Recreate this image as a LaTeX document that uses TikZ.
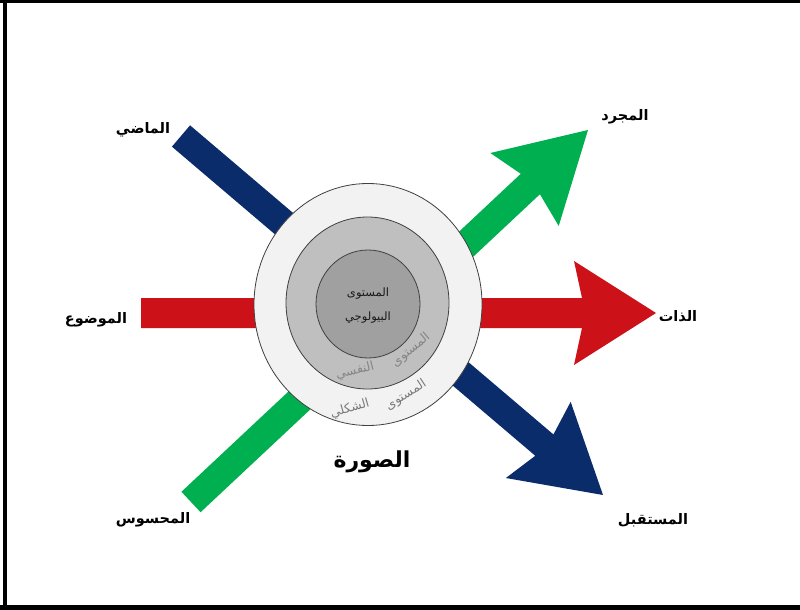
\documentclass[tikz,border=0pt]{standalone}
\usepackage{fontspec}
\usetikzlibrary{calc,shapes.geometric}
\newfontfamily\arabicfont[Script=Arabic]{DejaVu Sans}
\TeXXeTstate=1
\definecolor{navy}{HTML}{0B2C6B}
\definecolor{arred}{HTML}{CC1218}
\definecolor{argreen}{HTML}{00B050}
\definecolor{ringA}{HTML}{F2F2F2}
\definecolor{ringB}{HTML}{BFBFBF}
\definecolor{ringC}{HTML}{A0A0A0}
\newcommand{\fatarrow}[6]{% tail, tip, colour, half bar width, head length, half head width
  \path ($(#2)!#5!(#1)$) coordinate (hb);
  \path ($(#2)!#5-8pt!(#1)$) coordinate (hbn);
  \fill[#3] ($(#1)!#4!90:(#2)$) -- ($(hbn)!#4!90:(#2)$) -- ($(hb)!#6!90:(#2)$) -- (#2)
    -- ($(hb)!#6!-90:(#2)$) -- ($(hbn)!#4!-90:(#2)$) -- ($(#1)!#4!-90:(#2)$) -- cycle;
}
\tikzset{
  lbl/.style={font=\arabicfont\bfseries\fontsize{14.5}{17}\selectfont, text=black, inner sep=0pt},
  ring/.style={ellipse, draw=black!75, line width=0.8pt, inner sep=0pt},
  arc text/.style={font=\arabicfont\fontsize{12.5}{14}\selectfont, inner sep=0pt},
  bio/.style={font=\arabicfont\fontsize{11.5}{13}\selectfont, text=black!90, inner sep=0pt},
}
\begin{document}
\begin{tikzpicture}[x=1pt,y=-1pt]
\useasboundingbox (0,0) rectangle (800,610);
\fill[white] (0,0) rectangle (800,610);
% frame
\fill[black] (0,0) rectangle (800,3);
\fill[black] (3,0) rectangle (7,610);
\fill[black] (0,605) rectangle (800,610);
% arrow end points
\coordinate (bluetail) at (181,136);
\coordinate (bluetip) at (603,495);
\coordinate (redtail) at (141,313);
\coordinate (redtip) at (656,313);
\coordinate (greentail) at (191,502);
\coordinate (greentip) at (588,130);
\fatarrow{bluetail}{bluetip}{navy}{14pt}{85pt}{50pt}
\fatarrow{redtail}{redtip}{arred}{15pt}{82pt}{52pt}
\fatarrow{greentail}{greentip}{argreen}{14pt}{87pt}{50pt}
% circles
\node[ring, fill=ringA, minimum width=228pt, minimum height=242pt] (outer) at (368,304.5) {};
\node[ring, fill=ringB, minimum width=163pt, minimum height=172pt] (middle) at (367.5,303) {};
\node[ring, fill=ringC, minimum width=104pt, minimum height=108pt] (inner) at (368,304) {};
% inner text
\node[bio] (bio1) at (368,294) {\beginR المستوى\endR};
\node[bio] (bio2) at (368,318) {\beginR البيولوجي\endR};
% curved ring labels
\node[arc text, text=black!48, rotate=40] (nafsi1) at (411,350) {\beginR المستوى\endR};
\node[arc text, text=black!48, rotate=14] (nafsi2) at (355,371) {\beginR النفسي\endR};
\node[arc text, text=black!52, rotate=33] (shakli1) at (406,395) {\beginR المستوى\endR};
\node[arc text, text=black!52, rotate=16] (shakli2) at (350,409) {\beginR الشكلي\endR};
% labels
\node[lbl] (past) at (143,130) {\beginR الماضي\endR};
\node[lbl] (subject) at (96,320) {\beginR الموضوع\endR};
\node[lbl] (sensed) at (153,520) {\beginR المحسوس\endR};
\node[lbl] (abstract) at (625,117) {\beginR المجرد\endR};
\node[lbl] (self) at (678,316) {\beginR الذات\endR};
\node[lbl] (future) at (653,520) {\beginR المستقبل\endR};
\node[lbl, font=\arabicfont\bfseries\fontsize{22}{26}\selectfont] (image) at (372,462) {\beginR الصورة\endR};
\end{tikzpicture}
\end{document}
